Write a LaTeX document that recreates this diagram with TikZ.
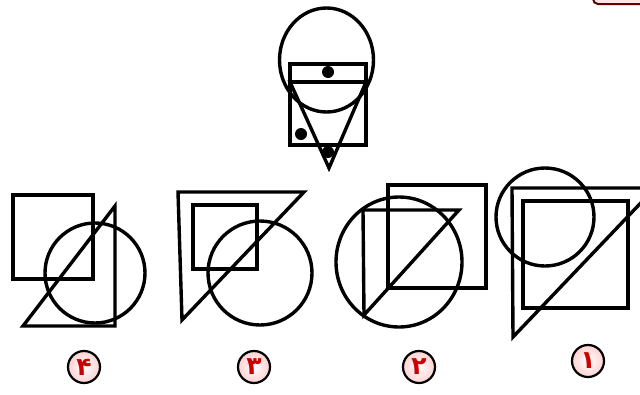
\documentclass[tikz,border=0pt]{standalone}
\usepackage{fontspec}
\newfontfamily\arabicfont[Script=Arabic]{DejaVu Sans}
\tikzset{
  fig/.style={line width=3.4pt, line join=miter},
  dotmark/.style={circle, fill=black, inner sep=0pt, minimum size=12pt},
  numlabel/.style={circle, draw=black, line width=2.2pt, minimum size=32pt, inner sep=0pt,
    inner color=white, outer color=pink!80!red!45, text=red!80!black,
    font=\arabicfont\bfseries\fontsize{25}{25}\selectfont}
}
\begin{document}
\begin{tikzpicture}[x=1pt,y=-1pt]
\useasboundingbox (0,0) rectangle (640,394);
\clip (0,0) rectangle (640,394);
\fill[white] (0,0) rectangle (640,394);
% cropped element in top right corner
\draw[line width=2pt, draw=red!40!black, fill=pink!40, rounded corners=5pt] (593,-20) rectangle (660,4);
% ---- question figure
\draw[fig] (326.5,60) ellipse [x radius=47, y radius=52];
\draw[fig] (290,64) rectangle (366,82);
\draw[fig] (290,82) rectangle (366,145);
\draw[fig] (290,82) -- (366,82) -- (329,168) -- cycle;
\node[dotmark] (d1) at (328,72) {};
\node[dotmark] (d2) at (301,134) {};
\node[dotmark] (d3) at (328,152) {};
% ---- option 4
\draw[fig] (13,195) rectangle (93,279);
\draw[fig] (23,326) -- (115,326) -- (115,206) -- cycle;
\draw[fig] (95,273) circle (50);
% ---- option 3
\draw[fig] (178,192) -- (304,192) -- (182,320) -- cycle;
\draw[fig] (193,205) rectangle (257,269);
\draw[fig] (260,273) circle (52);
% ---- option 2
\draw[fig] (388,185) rectangle (486,288);
\draw[fig] (363,210) -- (459,210) -- (364,315) -- cycle;
\draw[fig] (399,262) ellipse [x radius=63, y radius=65];
% ---- option 1
\draw[fig] (545,217) circle (49);
\draw[fig] (512,188) -- (655,188) -- (513,337) -- cycle;
\draw[fig] (523,201) rectangle (628,308);
% ---- labels
\node[numlabel] (l4) at (84,367) {۴};
\node[numlabel] (l3) at (254,367) {۳};
\node[numlabel] (l2) at (419,367) {۲};
\node[numlabel] (l1) at (588,361) {۱};
\end{tikzpicture}
\end{document}
